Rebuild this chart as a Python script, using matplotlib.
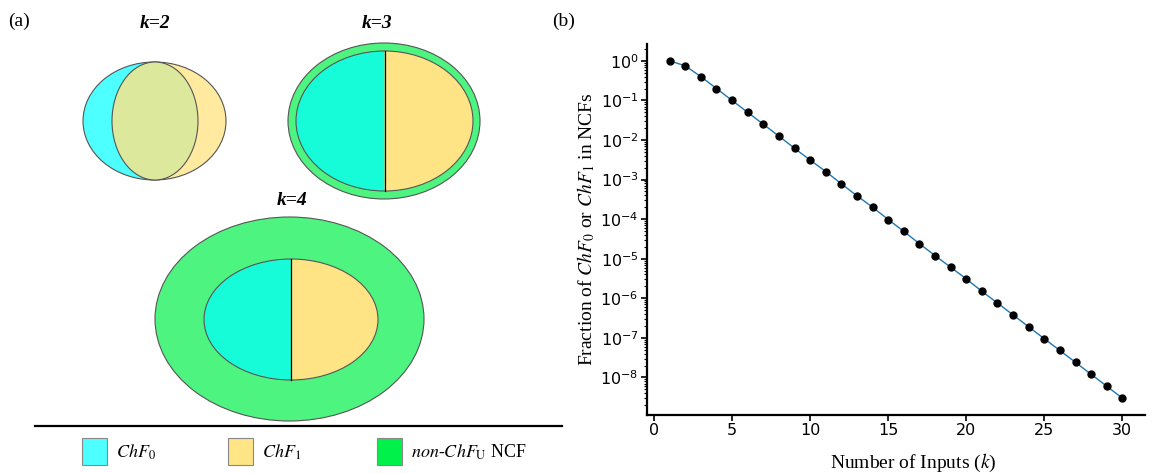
import numpy as np
import matplotlib
matplotlib.use('Agg')
import matplotlib.pyplot as plt
from matplotlib.patches import Ellipse, Polygon, Rectangle

# panel (b) data: fraction of ChF0 / ChF1 among NCFs vs number of inputs k
k_inputs = list(range(1, 31))
fraction = [1.0, 0.75, 0.4, 0.2, 0.1, 0.05, 0.025, 0.0125, 6.2e-3, 3.1e-3,
            1.6e-3, 7.8e-4, 3.9e-4, 2.0e-4, 9.8e-5, 4.9e-5, 2.4e-5, 1.2e-5,
            6.1e-6, 3.1e-6, 1.5e-6, 7.6e-7, 3.8e-7, 1.9e-7, 9.5e-8, 4.8e-8,
            2.4e-8, 1.2e-8, 6.0e-9, 3.0e-9]
x_ticks = [0, 5, 10, 15, 20, 25, 30]

legend_labels = [r'$ChF_0$', r'$ChF_1$', r'$non$-$ChF_{\mathrm{U}}$ NCF']
legend_colors = ['#4dffff', '#ffe585', '#00f24a']

SERIF = 'Liberation Serif'
CYAN2, YEL2, OLIVE = '#4dffff', '#ffeaa0', '#dce89c'
TEAL, YEL, GREEN = '#17fcd8', '#ffe485', '#4df580'
EDGE = '#555555'


def half_ellipse(cx, cy, w, h, left=True):
    if left:
        t = np.linspace(np.pi / 2, 3 * np.pi / 2, 100)
    else:
        t = np.linspace(-np.pi / 2, np.pi / 2, 100)
    return np.column_stack([cx + w / 2 * np.cos(t), cy + h / 2 * np.sin(t)])


def split_ellipse(ax, cx, cy, w, h, cl, cr):
    ax.add_patch(Polygon(half_ellipse(cx, cy, w, h, True), closed=True, fc=cl, ec='none'))
    ax.add_patch(Polygon(half_ellipse(cx, cy, w, h, False), closed=True, fc=cr, ec='none'))
    ax.add_patch(Ellipse((cx, cy), w, h, fc='none', ec=EDGE, lw=0.8))
    ax.plot([cx, cx], [cy - h / 2, cy + h / 2], color='black', lw=0.9)


fig = plt.figure(figsize=(11.55, 4.73), dpi=100)

# ---- panel (a): drawn in pixel coordinates
ax0 = fig.add_axes([0, 0, 1, 1])
ax0.set_xlim(0, 1155)
ax0.set_ylim(473, 0)
ax0.axis('off')

# k=2
ax0.add_patch(Polygon(half_ellipse(154.5, 121, 143, 118, True), closed=True, fc=CYAN2, ec='none'))
ax0.add_patch(Polygon(half_ellipse(154.5, 121, 143, 118, False), closed=True, fc=YEL2, ec='none'))
ax0.add_patch(Ellipse((154.5, 121), 143, 118, fc='none', ec=EDGE, lw=0.8))
ax0.add_patch(Ellipse((155, 121), 86, 118, fc=OLIVE, ec=EDGE, lw=0.8))

# k=3
ax0.add_patch(Ellipse((384, 121), 192, 156, fc=GREEN, ec=EDGE, lw=0.8))
split_ellipse(ax0, 384.5, 121, 177, 140, TEAL, YEL)

# k=4
ax0.add_patch(Ellipse((289.5, 319), 269, 204, fc=GREEN, ec=EDGE, lw=0.8))
split_ellipse(ax0, 291, 319.5, 174, 121, TEAL, YEL)

for txt, x, y in [('k=2', 155, 23), ('k=3', 377, 23), ('k=4', 292, 200)]:
    ax0.text(x, y, txt, family=SERIF, fontsize=14, fontweight='bold',
             fontstyle='italic', ha='center', va='center')

ax0.text(8, 21, '(a)', family=SERIF, fontsize=14, va='center')
ax0.text(552, 21, '(b)', family=SERIF, fontsize=14, va='center')

# legend bar
ax0.plot([35, 562], [426, 426], color='black', lw=1.6)
for x0, lab, col in zip([82, 228, 377], legend_labels, legend_colors):
    ax0.add_patch(Rectangle((x0, 438), 25, 27, fc=col, ec='#888888', lw=0.8))
    ax0.text(x0 + 34, 452, lab, family=SERIF, math_fontfamily='stix',
             fontsize=13, va='center')

# ---- panel (b)
ax = fig.add_axes([647 / 1155, 58 / 473, 498 / 1155, 371 / 473])
ax.plot(k_inputs, fraction, color='#1f77b4', lw=1.0)
ax.plot(k_inputs, fraction, 'o', color='black', ms=5)
ax.set_yscale('log')
ax.set_xticks(x_ticks)
ax.spines['top'].set_visible(False)
ax.spines['right'].set_visible(False)
ax.spines['left'].set_linewidth(1.6)
ax.spines['bottom'].set_linewidth(1.6)
ax.tick_params(axis='both', which='major', width=1.2, length=4, labelsize=11.5, pad=2)
ax.tick_params(axis='y', which='minor', width=0.8, length=2)

ax.set_xlabel(r'Number of Inputs ($k$)', family=SERIF, math_fontfamily='stix', fontsize=14)
ax.xaxis.set_label_coords(0.534, -0.1)
ax.set_ylabel(r'Fraction of $ChF_0$ or $ChF_1$ in NCFs', family=SERIF,
              math_fontfamily='stix', fontsize=14)
ax.yaxis.set_label_coords(-0.1, 0.5)

fig.savefig('out.png', dpi=100)
